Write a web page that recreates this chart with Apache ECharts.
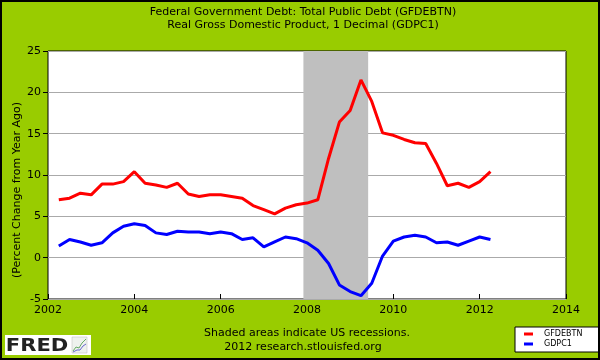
<!DOCTYPE html>
<html>
<head>
<meta charset="utf-8">
<script src="https://cdn.jsdelivr.net/npm/echarts@6/dist/echarts.min.js"></script>
<style>html,body{margin:0;padding:0;background:#99cc00;}#c{width:600px;height:360px;}</style>
</head>
<body>
<div id="c"></div>
<script>
var quarters = ['2002-04-01','2002-07-01','2002-10-01','2003-01-01','2003-04-01','2003-07-01','2003-10-01','2004-01-01','2004-04-01','2004-07-01','2004-10-01','2005-01-01','2005-04-01','2005-07-01','2005-10-01','2006-01-01','2006-04-01','2006-07-01','2006-10-01','2007-01-01','2007-04-01','2007-07-01','2007-10-01','2008-01-01','2008-04-01','2008-07-01','2008-10-01','2009-01-01','2009-04-01','2009-07-01','2009-10-01','2010-01-01','2010-04-01','2010-07-01','2010-10-01','2011-01-01','2011-04-01','2011-07-01','2011-10-01','2012-01-01','2012-04-01'];
var gfdebtn = [7.0,7.2,7.8,7.6,8.9,8.9,9.2,10.4,9.0,8.8,8.5,9.0,7.7,7.4,7.6,7.6,7.4,7.2,6.3,5.8,5.3,6.0,6.4,6.6,7.0,12.0,16.4,17.8,21.5,18.9,15.1,14.8,14.3,13.9,13.8,11.4,8.7,9.0,8.5,9.2,10.4];
var gdpc1 = [1.4,2.2,1.9,1.5,1.8,3.0,3.8,4.1,3.9,3.0,2.8,3.2,3.1,3.1,2.9,3.1,2.9,2.2,2.4,1.3,1.9,2.5,2.3,1.8,0.9,-0.7,-3.3,-4.1,-4.6,-3.1,0.2,2.0,2.5,2.7,2.5,1.8,1.9,1.5,2.0,2.5,2.2];
var recession = ['2007-12-01','2009-06-01'];
var titleLines = ['Federal Government Debt: Total Public Debt (GFDEBTN)','Real Gross Domestic Product, 1 Decimal (GDPC1)'];
var footerLines = ['Shaded areas indicate US recessions.','2012 research.stlouisfed.org'];
var yAxisTitle = '(Percent Change from Year Ago)';

function toYear(s){ var p = s.split('-'); return +p[0] + (+p[1]-1)/12; }
function pairs(vals){ return quarters.map(function(q,i){ return [toYear(q), vals[i]]; }); }

var font = 'DejaVu Sans';
function txt(t, x, y){
  return { type: 'text', x: x, y: y, z: 10,
    style: { text: t, fontSize: 11, fontFamily: font, fill: '#000', textAlign: 'center', textVerticalAlign: 'middle' } };
}
var chart = echarts.init(document.getElementById('c'));
chart.setOption({
  backgroundColor: '#99cc00',
  animation: false,
  textStyle: { fontFamily: font },
  legend: {
    data: ['GFDEBTN','GDPC1'],
    orient: 'vertical', left: 515, top: 327,
    backgroundColor: '#fff', borderColor: '#000', borderWidth: 1,
    padding: [3, 17, 4, 9], itemGap: 2,
    itemWidth: 9, itemHeight: 3, icon: 'rect',
    textStyle: { fontSize: 8, color: '#000', fontFamily: font, padding: [0,0,0,6] }
  },
  grid: { left: 48, right: 34, top: 51, bottom: 61, show: true, backgroundColor: '#fff', borderColor: '#000', borderWidth: 1 },
  xAxis: {
    type: 'value', min: 2002, max: 2014, interval: 2,
    axisLine: { show: false, onZero: false },
    axisTick: { inside: true, length: 5, lineStyle: { color: '#000' } },
    axisLabel: { fontSize: 11, color: '#000', margin: 6, fontFamily: font, formatter: function(v){ return String(v); } },
    splitLine: { show: false }
  },
  yAxis: {
    type: 'value', min: -5, max: 25, interval: 5,
    axisLine: { show: false, onZero: false },
    axisTick: { show: true, inside: false, length: 5, lineStyle: { color: '#000' } },
    axisLabel: { fontSize: 11, color: '#000', margin: 7, fontFamily: font },
    splitLine: { show: true, lineStyle: { color: '#aaaaaa', width: 1 } }
  },
  graphic: [
    txt(titleLines[0], 303, 12),
    txt(titleLines[1], 303, 25.5),
    txt(footerLines[0], 307, 333.5),
    txt(footerLines[1], 303, 347),
    { type: 'text', z: 10,
      style: { text: yAxisTitle, fontSize: 11, fontFamily: font, fill: '#000', textAlign: 'center', textVerticalAlign: 'middle' },
      rotation: Math.PI/2, x: 17, y: 190 },
    { type: 'rect', shape: { x: 1, y: 1, width: 598, height: 358 }, style: { fill: 'none', stroke: '#000', lineWidth: 2 }, z: 20, silent: true },
    { type: 'group', z: 10, children: [
      { type: 'rect', shape: { x: 5, y: 335, width: 86, height: 20 }, style: { fill: '#fff' } },
      { type: 'text', x: 7, y: 346, scaleX: 1.17, originX: 7, originY: 346,
        style: { text: 'FRED', fontSize: 18, fontWeight: 'bold', fontFamily: 'DejaVu Sans', fill: '#222', textVerticalAlign: 'middle' } },
      { type: 'rect', shape: { x: 72, y: 337, width: 15, height: 16 }, style: { fill: '#eef2ee', stroke: '#bbb', lineWidth: 0.5 } },
      { type: 'polyline', shape: { points: [[73,351],[76,347],[79,348],[82,343],[86,339]] }, style: { stroke: '#6a6', lineWidth: 1, fill: 'none' } },
      { type: 'polyline', shape: { points: [[73,352],[77,350],[80,350],[83,346],[86,344]] }, style: { stroke: '#66c', lineWidth: 1, fill: 'none' } }
    ]}
  ],
  series: [
    { name: 'recession', type: 'line', data: [], z: 1, silent: true,
      markArea: { silent: true, itemStyle: { color: '#bfbfbf', opacity: 1 },
        data: [[{ xAxis: toYear(recession[0]) }, { xAxis: toYear(recession[1]) }]] } },
    { name: 'GFDEBTN', type: 'line', data: pairs(gfdebtn), z: 5, showSymbol: false, symbol: 'none',
      lineStyle: { color: '#ff0000', width: 3 }, itemStyle: { color: '#ff0000' } },
    { name: 'GDPC1', type: 'line', data: pairs(gdpc1), z: 5, showSymbol: false, symbol: 'none',
      lineStyle: { color: '#0000ff', width: 3 }, itemStyle: { color: '#0000ff' } }
  ]
});
</script>
</body>
</html>
